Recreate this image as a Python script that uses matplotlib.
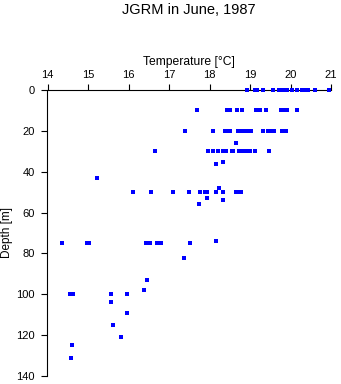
import matplotlib
matplotlib.use("Agg")
import matplotlib.pyplot as plt

# temperature [C] and depth [m] of each sample
temp = [18.93, 19.13, 19.17, 19.33, 19.58, 19.72, 19.76, 19.87, 19.91, 20.04, 20.15, 20.29, 20.38, 20.42, 20.61, 20.96,
        17.70, 18.44, 18.51, 18.69, 18.81, 19.14, 19.20, 19.25, 19.40, 19.76, 19.86, 19.92, 20.15,
        17.40, 18.09, 18.38, 18.44, 18.51, 18.71, 18.81, 18.90, 18.96, 19.02, 19.33, 19.44, 19.51, 19.56, 19.60, 19.80, 19.90,
        18.66,
        16.65, 17.97, 18.08, 18.20, 18.33, 18.41, 18.55, 18.59, 18.73, 18.78, 18.83, 18.92, 19.00, 19.12, 19.48,
        18.34, 18.17, 15.23, 18.24,
        16.12, 16.55, 17.10, 17.49, 17.76, 17.89, 17.95, 18.17, 18.34, 18.65, 18.70, 18.75, 18.79,
        17.95, 18.34, 17.75, 18.17,
        14.37, 14.97, 15.03, 16.43, 16.54, 16.71, 16.81, 17.51,
        17.38, 16.46, 16.38,
        14.56, 14.64, 15.58, 15.96,
        15.57, 15.96, 15.61, 15.81, 14.60, 14.58]
depth = [0] * 16 + [10] * 13 + [20] * 17 + [26] + [30] * 15 + \
        [35, 36, 43, 48] + [50] * 13 + [53, 54, 56, 74] + [75] * 8 + \
        [82, 93, 98] + [100] * 4 + [104, 109, 115, 121, 125, 131]

xticks = [14, 15, 16, 17, 18, 19, 20, 21]
yticks = [0, 20, 40, 60, 80, 100, 120, 140]

plt.rcParams['font.family'] = ['Liberation Sans', 'DejaVu Sans']

fig = plt.figure(figsize=(3.41, 3.84), dpi=100)
ax = fig.add_axes([47.5 / 341, 1 - 376 / 384, (331 - 47.5) / 341, (376 - 90) / 384])

ax.plot(temp, depth, 's', color='#0000ff', markersize=2.3, markeredgewidth=0,
        linestyle='none', clip_on=False, zorder=3)

ax.set_xlim(14, 21)
ax.set_ylim(140, 0)
ax.set_xticks(xticks)
ax.set_yticks(yticks)
ax.xaxis.tick_top()
ax.xaxis.set_label_position('top')
ax.spines['right'].set_visible(False)
ax.spines['bottom'].set_visible(False)
for s in ['left', 'top']:
    ax.spines[s].set_linewidth(0.8)
ax.tick_params(direction='out', length=4, width=0.8, labelsize=8)
ax.tick_params(axis='x', pad=3)
ax.tick_params(axis='y', pad=5)
ax.set_xlabel('Temperature [°C]', fontsize=8.7, labelpad=4)

# y label placed by hand so it stays inside the narrow left margin
fig.text(7.5 / 341, 1 - 233 / 384, 'Depth [m]', rotation=90, ha='center', va='center', fontsize=8.5)
fig.text(189 / 341, 1 - 10 / 384, 'JGRM in June, 1987', ha='center', va='center', fontsize=10.5)

fig.savefig('out.png', dpi=100)
